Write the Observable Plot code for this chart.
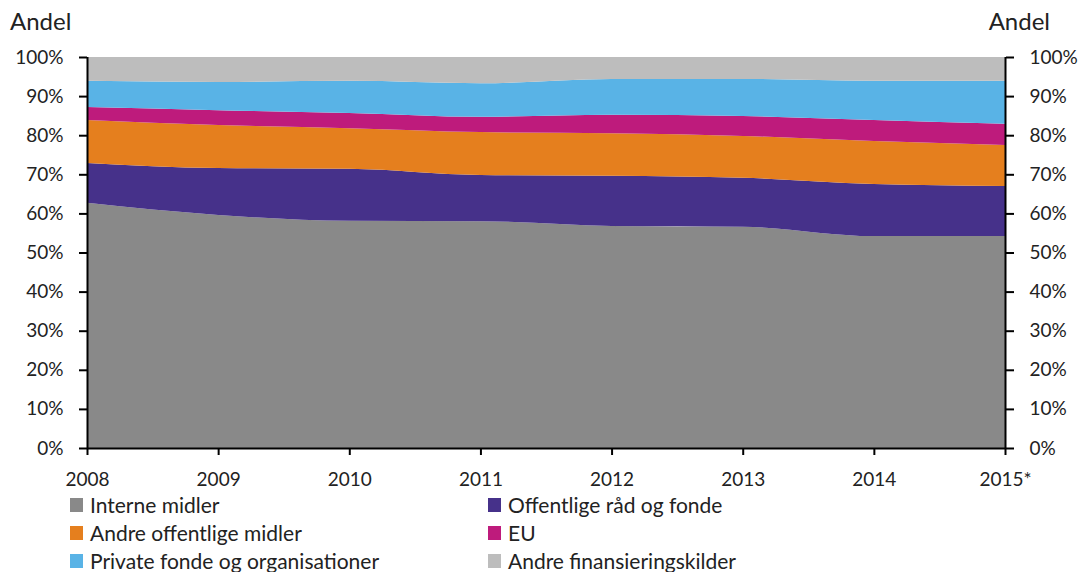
<!DOCTYPE html>
<html>
<head>
<meta charset="utf-8">
<script src="https://cdn.jsdelivr.net/npm/d3@7"></script>
<script src="https://cdn.jsdelivr.net/npm/@observablehq/plot@0.6"></script>
<style>
  html, body { margin: 0; padding: 0; background: #fff; }
  #wrap { position: relative; width: 1086px; height: 572px; font-family: Lato, "Open Sans", sans-serif; color: #222; }
  .unit { position: absolute; top: 7px; font-size: 24px; line-height: 28px; }
  #legend { position: absolute; left: 70px; top: 494px; width: 900px; }
  .item { position: absolute; display: flex; align-items: center; font-size: 21px; line-height: 22px; height: 22px; white-space: nowrap; }
  .sw { width: 13px; height: 14px; margin-right: 7px; }
</style>
</head>
<body>
<div id="wrap">
  <div class="unit" style="left:10px;">Andel</div>
  <div class="unit" style="right:36px;">Andel</div>
  <div id="chart"></div>
  <div id="legend"></div>
</div>
<script>
const years = [2008, 2009, 2010, 2011, 2012, 2013, 2014, 2015];
const yearLabels = ["2008", "2009", "2010", "2011", "2012", "2013", "2014", "2015*"];
const seriesNames = ["Interne midler", "Offentlige råd og fonde", "Andre offentlige midler", "EU", "Private fonde og organisationer", "Andre finansieringskilder"];
const seriesColors = ["#898989", "#46318a", "#e57f1e", "#be1b7c", "#59b3e6", "#bdbdbd"];
const interne      = [62.7, 59.6, 58.1, 58.0, 56.8, 56.6, 54.2, 54.2];
const offRaad      = [10.2, 12.0, 13.3, 11.8, 12.8, 12.5, 13.3, 12.8];
const andreOff     = [11.0, 11.0, 10.4, 11.0, 10.9, 10.7, 11.0, 10.5];
const eu           = [3.3, 3.8, 3.9, 3.9, 4.7, 5.1, 5.4, 5.4];
const privateFonde = [6.7, 7.2, 8.2, 8.6, 9.2, 9.5, 10.0, 11.0];
const andreFin     = [6.1, 6.4, 6.1, 6.7, 5.6, 5.6, 6.1, 6.1];
const yTicks = [0, 10, 20, 30, 40, 50, 60, 70, 80, 90, 100];

const seriesValues = [interne, offRaad, andreOff, eu, privateFonde, andreFin];
const data = [];
seriesNames.forEach((s, i) => years.forEach((y, j) => data.push({year: y, series: s, value: seriesValues[i][j]})));

const fmtYear = d => yearLabels[years.indexOf(d)];
const fmtPct = d => d + "%";

const chart = Plot.plot({
  width: 1086,
  height: 492,
  marginLeft: 87,
  marginRight: 81,
  marginTop: 57,
  marginBottom: 44,
  style: {fontFamily: "Lato, 'Open Sans', sans-serif", fontSize: "19px", color: "#222", background: "transparent"},
  x: {domain: [2008, 2015], type: "linear"},
  y: {domain: [0, 100]},
  color: {domain: seriesNames, range: seriesColors},
  marks: [
    Plot.areaY(data, {x: "year", y: "value", fill: "series", order: seriesNames, curve: "monotone-x"}),
    Plot.axisY({anchor: "left", ticks: yTicks, tickFormat: fmtPct, tickSize: 8, tickPadding: 16, label: null, stroke: "#000", strokeWidth: 2, fontSize: 19}),
    Plot.axisY({anchor: "right", ticks: yTicks, tickFormat: fmtPct, tickSize: 8, tickPadding: 16, label: null, stroke: "#000", strokeWidth: 2, fontSize: 19}),
    Plot.axisX({anchor: "bottom", ticks: years, tickFormat: fmtYear, tickSize: 7, tickPadding: 17, label: null, stroke: "#000", strokeWidth: 2, fontSize: 19}),
    Plot.ruleX([2008, 2015], {stroke: "#000", strokeWidth: 2}),
    Plot.ruleY([0], {stroke: "#000", strokeWidth: 2})
  ]
});
document.getElementById("chart").appendChild(chart);

const legend = document.getElementById("legend");
seriesNames.forEach((s, i) => {
  const col = i % 2, row = Math.floor(i / 2);
  const el = document.createElement("div");
  el.className = "item";
  el.style.left = (col === 0 ? 0 : 418) + "px";
  el.style.top = (row * 28) + "px";
  el.innerHTML = `<span class="sw" style="background:${seriesColors[i]}"></span><span>${s}</span>`;
  legend.appendChild(el);
});
</script>
</body>
</html>
